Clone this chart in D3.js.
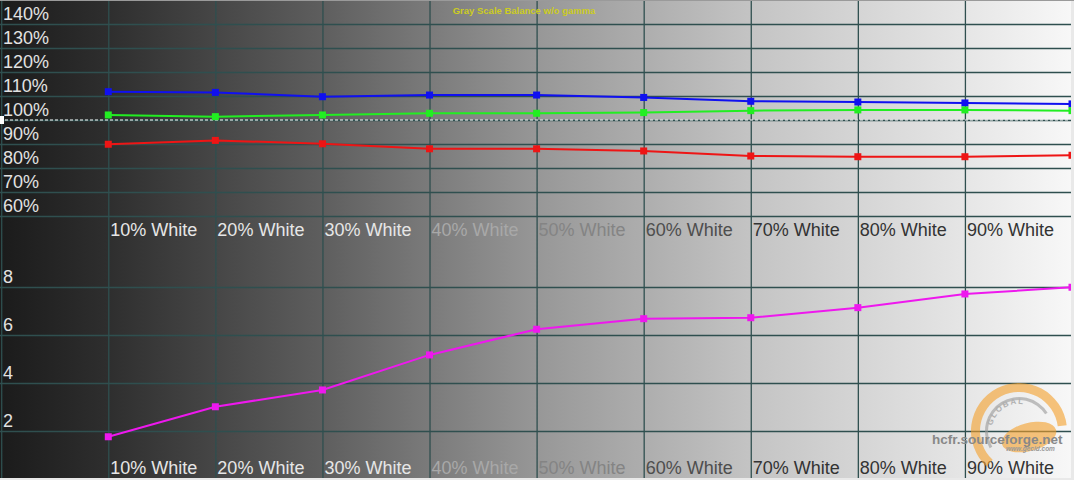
<!DOCTYPE html>
<html><head><meta charset="utf-8">
<script src="https://cdn.jsdelivr.net/npm/d3@7"></script>
<style>html,body{margin:0;padding:0;background:#fff;overflow:hidden}svg{display:block}</style>
</head><body>
<svg id="c" width="1074" height="480"></svg>
<script>
// ---- data ----
const levels = [10, 20, 30, 40, 50, 60, 70, 80, 90, 100];
const xLabels = ["10% White", "20% White", "30% White", "40% White", "50% White",
                 "60% White", "70% White", "80% White", "90% White"];
const redPct   = [89.9, 91.5, 90.1, 88.0, 88.0, 87.1, 85.0, 84.7, 84.7, 85.3];
const greenPct = [102.1, 101.4, 102.1, 102.8, 102.8, 103.1, 103.9, 104.2, 104.2, 103.9];
const bluePct  = [111.8, 111.5, 109.7, 110.4, 110.4, 109.4, 107.8, 107.5, 107.1, 106.7];
const deltaE   = [1.76, 3.01, 3.71, 5.17, 6.24, 6.68, 6.72, 7.14, 7.71, 7.99];
const topTicks = [140, 130, 120, 110, 100, 90, 80, 70, 60];
const bottomTicks = [8, 6, 4, 2];
const gridSteps = [0, 10, 20, 30, 40, 50, 60, 70, 80, 90, 100];
const title = "Gray Scale Balance w/o gamma";
const watermark = "hcfr.sourceforge.net";

// ---- layout ----
const W = 1074, H = 480;
const svg = d3.select("#c");
const FONT = "'Liberation Sans', Arial, sans-serif";
const GRID = "#2f4f4f";

const x = d3.scaleLinear().domain([0, 100]).range([1.2, 1072]);
const yTop = d3.scaleLinear().domain([50, 150]).range([240, 0]);
const yBot = d3.scaleLinear().domain([0, 10]).range([479, 239]);

// background gradient
const defs = svg.append("defs");
const lg = defs.append("linearGradient").attr("id", "bg").attr("x1", "0").attr("x2", "1").attr("y1", "0").attr("y2", "0");
[[0, "#1b1b1b"], [0.1, "#2e2e2e"], [0.3, "#5e5e5e"], [0.5, "#979797"], [0.7, "#c4c4c4"], [0.9, "#e6e6e6"], [1, "#f8f8f8"]]
  .forEach(([o, c]) => lg.append("stop").attr("offset", o).attr("stop-color", c));
svg.append("rect").attr("width", W).attr("height", H).attr("fill", "url(#bg)");

defs.append("clipPath").attr("id", "plotclip").append("rect")
  .attr("x", 0).attr("y", 0).attr("width", 1071).attr("height", H);

// vertical grid
const vg = svg.append("g").attr("class", "vgrid")
  .call(d3.axisBottom(x).tickValues(gridSteps).tickSize(H).tickFormat(""));
vg.select(".domain").remove();
vg.selectAll("line").attr("stroke", GRID).attr("stroke-width", 1.3);

// horizontal grids with labels sitting above each line
function hgrid(scale, ticks, fmt) {
  const g = svg.append("g")
    .call(d3.axisLeft(scale).tickValues(ticks).tickSize(-1071).tickFormat(fmt));
  g.select(".domain").remove();
  g.selectAll("line").attr("stroke", GRID).attr("stroke-width", 1.3);
  g.selectAll("text")
    .attr("x", 3).attr("y", -4.5).attr("dy", null)
    .attr("text-anchor", "start")
    .attr("font-family", FONT).attr("font-size", 18)
    .attr("fill", "#e2e2e2");
  return g;
}
hgrid(yTop, topTicks, d => d + "%");
hgrid(yBot, bottomTicks, d => d);

// 100% reference dashed line
svg.append("line")
  .attr("x1", 0).attr("x2", 1068).attr("y1", yTop(100)).attr("y2", yTop(100))
  .attr("stroke", "#ffffff").attr("stroke-width", 1).attr("stroke-dasharray", "3,2");
svg.append("rect").attr("x", 0).attr("y", yTop(100) - 4).attr("width", 4).attr("height", 8).attr("fill", "#ffffff");

// x labels (top & bottom)
function labelColor(i) {
  const l = levels[i];
  if (l <= 30) return "#e6e6e6";
  if (l === 40) return "#a8a8a8";
  if (l === 50) return "#848484";
  if (l === 60) return "#4e4e4e";
  return "#333333";
}
[235.5, 473.5].forEach(by => {
  svg.append("g").selectAll("text").data(xLabels).join("text")
    .attr("x", (d, i) => x(levels[i]) + 2)
    .attr("y", by)
    .attr("font-family", FONT).attr("font-size", 18)
    .attr("fill", (d, i) => labelColor(i))
    .text(d => d);
});

// series
const plot = svg.append("g").attr("clip-path", "url(#plotclip)");
function series(vals, scale, color) {
  const pts = vals.map((v, i) => [x(levels[i]), scale(v)]);
  plot.append("path")
    .attr("d", d3.line()(pts))
    .attr("fill", "none").attr("stroke", color).attr("stroke-width", 2);
  plot.append("g").selectAll("rect").data(vals).join("rect")
    .attr("x", (v, i) => x(levels[i]) - 3.5)
    .attr("y", v => scale(v) - 3.5)
    .attr("width", 7).attr("height", 7)
    .attr("fill", color);
}
series(bluePct, yTop, "#1010f0");
series(greenPct, yTop, "#22ee22");
series(redPct, yTop, "#ee1515");
series(deltaE, yBot, "#ee18ee");

// title
svg.append("text").attr("x", 524).attr("y", 14)
  .attr("text-anchor", "middle")
  .attr("font-family", FONT).attr("font-size", 9.5).attr("font-weight", "bold")
  .attr("fill", "#cccc22").text(title);

// watermark logo
const logo = svg.append("g").attr("transform", "translate(1019,431)").attr("opacity", 0.6);
logo.append("path")
  .attr("d", d3.arc().innerRadius(39).outerRadius(48).startAngle(-2.4).endAngle(1.45)())
  .attr("fill", "#f5a02a");
logo.append("path")
  .attr("d", d3.arc().innerRadius(31).outerRadius(34).startAngle(-2.1).endAngle(1.0)())
  .attr("fill", "#9a9a9a");
logo.append("path").attr("id", "logoarc")
  .attr("d", "M -26,8 A 27,27 0 0 1 20,-18").attr("fill", "none");
logo.append("text").attr("font-family", FONT).attr("font-size", 8).attr("font-weight", "bold")
  .attr("fill", "#888").attr("letter-spacing", 1.5)
  .append("textPath").attr("href", "#logoarc").attr("startOffset", "18%").text("GLOBAL");
logo.append("ellipse").attr("cx", 10).attr("cy", 6).attr("rx", 28).attr("ry", 14)
  .attr("transform", "rotate(-15,10,6)").attr("fill", "#f5a02a");
svg.append("text").attr("x", 1006).attr("y", 451)
  .attr("font-family", FONT).attr("font-size", 6.5).attr("font-style", "italic").attr("font-weight", "bold")
  .attr("fill", "#9a9a9a").text("www.gecid.com");

svg.append("text").attr("x", 932).attr("y", 443.5)
  .attr("font-family", FONT).attr("font-size", 13.5).attr("font-weight", "bold")
  .attr("fill", "#888888").text(watermark);

// frame edges
svg.append("rect").attr("x", 1071).attr("y", 0).attr("width", 3).attr("height", H).attr("fill", "#e9e9e9");
svg.append("rect").attr("x", 0).attr("y", 478).attr("width", W).attr("height", 2).attr("fill", "#e9e9e9");
svg.append("rect").attr("x", 0).attr("y", 0).attr("width", W).attr("height", 1).attr("fill", "#9a9a9a");
</script>
</body></html>
